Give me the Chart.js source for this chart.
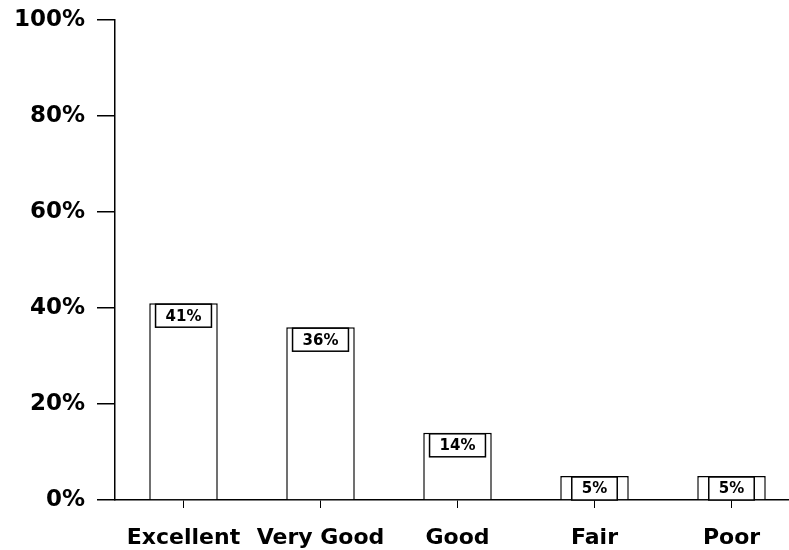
<!DOCTYPE html>
<html>
<head>
<meta charset="utf-8">
<script src="https://cdn.jsdelivr.net/npm/chart.js@4.4.0/dist/chart.umd.min.js"></script>
<style>
html,body{margin:0;padding:0;background:#fff;overflow:hidden;width:789px;height:550px;}
#wrap{width:800px;height:550px;}
</style>
</head>
<body>
<div id="wrap"><canvas id="c" width="800" height="550"></canvas></div>
<script>
const categories = ["Excellent", "Very Good", "Good", "Fair", "Poor"];
const values = [41, 36, 14, 5, 5];
const yTicks = [0, 20, 40, 60, 80, 100];

const FONT = "'DejaVu Sans', sans-serif";

const labelBoxes = {
  id: 'labelBoxes',
  afterDatasetsDraw(chart) {
    const ctx = chart.ctx;
    const meta = chart.getDatasetMeta(0);
    ctx.save();
    ctx.font = "bold 15px " + FONT;
    ctx.textAlign = 'center';
    ctx.textBaseline = 'middle';
    meta.data.forEach((bar, i) => {
      const txt = values[i] + '%';
      const tw = ctx.measureText(txt).width;
      const w = tw + 20, h = 23;
      const x = bar.x - w / 2, y = bar.y + 1;
      ctx.fillStyle = '#fff';
      ctx.fillRect(x, y, w, h);
      ctx.strokeStyle = '#000';
      ctx.lineWidth = 1.5;
      ctx.strokeRect(x, y, w, h);
      ctx.fillStyle = '#000';
      ctx.fillText(txt, bar.x, y + h / 2 + 1);
    });
    ctx.restore();
  }
};

new Chart(document.getElementById('c'), {
  type: 'bar',
  data: {
    labels: categories,
    datasets: [{
      data: values,
      backgroundColor: '#fff',
      borderColor: '#000',
      borderWidth: 1.5,
      barPercentage: 0.5,
      categoryPercentage: 1.0
    }]
  },
  options: {
    responsive: false,
    animation: false,
    layout: { padding: { top: 20, right: 0, left: 0, bottom: 0 } },
    plugins: { legend: { display: false }, tooltip: { enabled: false } },
    scales: {
      x: {
        offset: true,
        grid: { display: true, drawOnChartArea: false, drawTicks: true, tickLength: 8, offset: false, color: '#000', lineWidth: 1 },
        border: { display: true, color: '#000', width: 1.5 },
        ticks: { color: '#000', font: { family: FONT, size: 22, weight: 'bold' }, padding: 17, maxRotation: 0, autoSkip: false },
        afterFit(scale) { scale.height = 50; scale.paddingLeft = 0; scale.paddingRight = 0; }
      },
      y: {
        min: 0, max: 100,
        afterBuildTicks(scale) { scale.ticks = yTicks.map(v => ({ value: v })); },
        grid: { display: true, drawOnChartArea: false, drawTicks: true, tickLength: 18, color: '#000', lineWidth: 1.5 },
        border: { display: true, color: '#000', width: 1.5 },
        ticks: { color: '#000', font: { family: FONT, size: 23, weight: 'bold' }, padding: 12, callback: v => v + '%' },
        afterFit(scale) { scale.width = 115; scale.paddingTop = 0; scale.paddingBottom = 0; }
      }
    }
  },
  plugins: [labelBoxes]
});
</script>
</body>
</html>
